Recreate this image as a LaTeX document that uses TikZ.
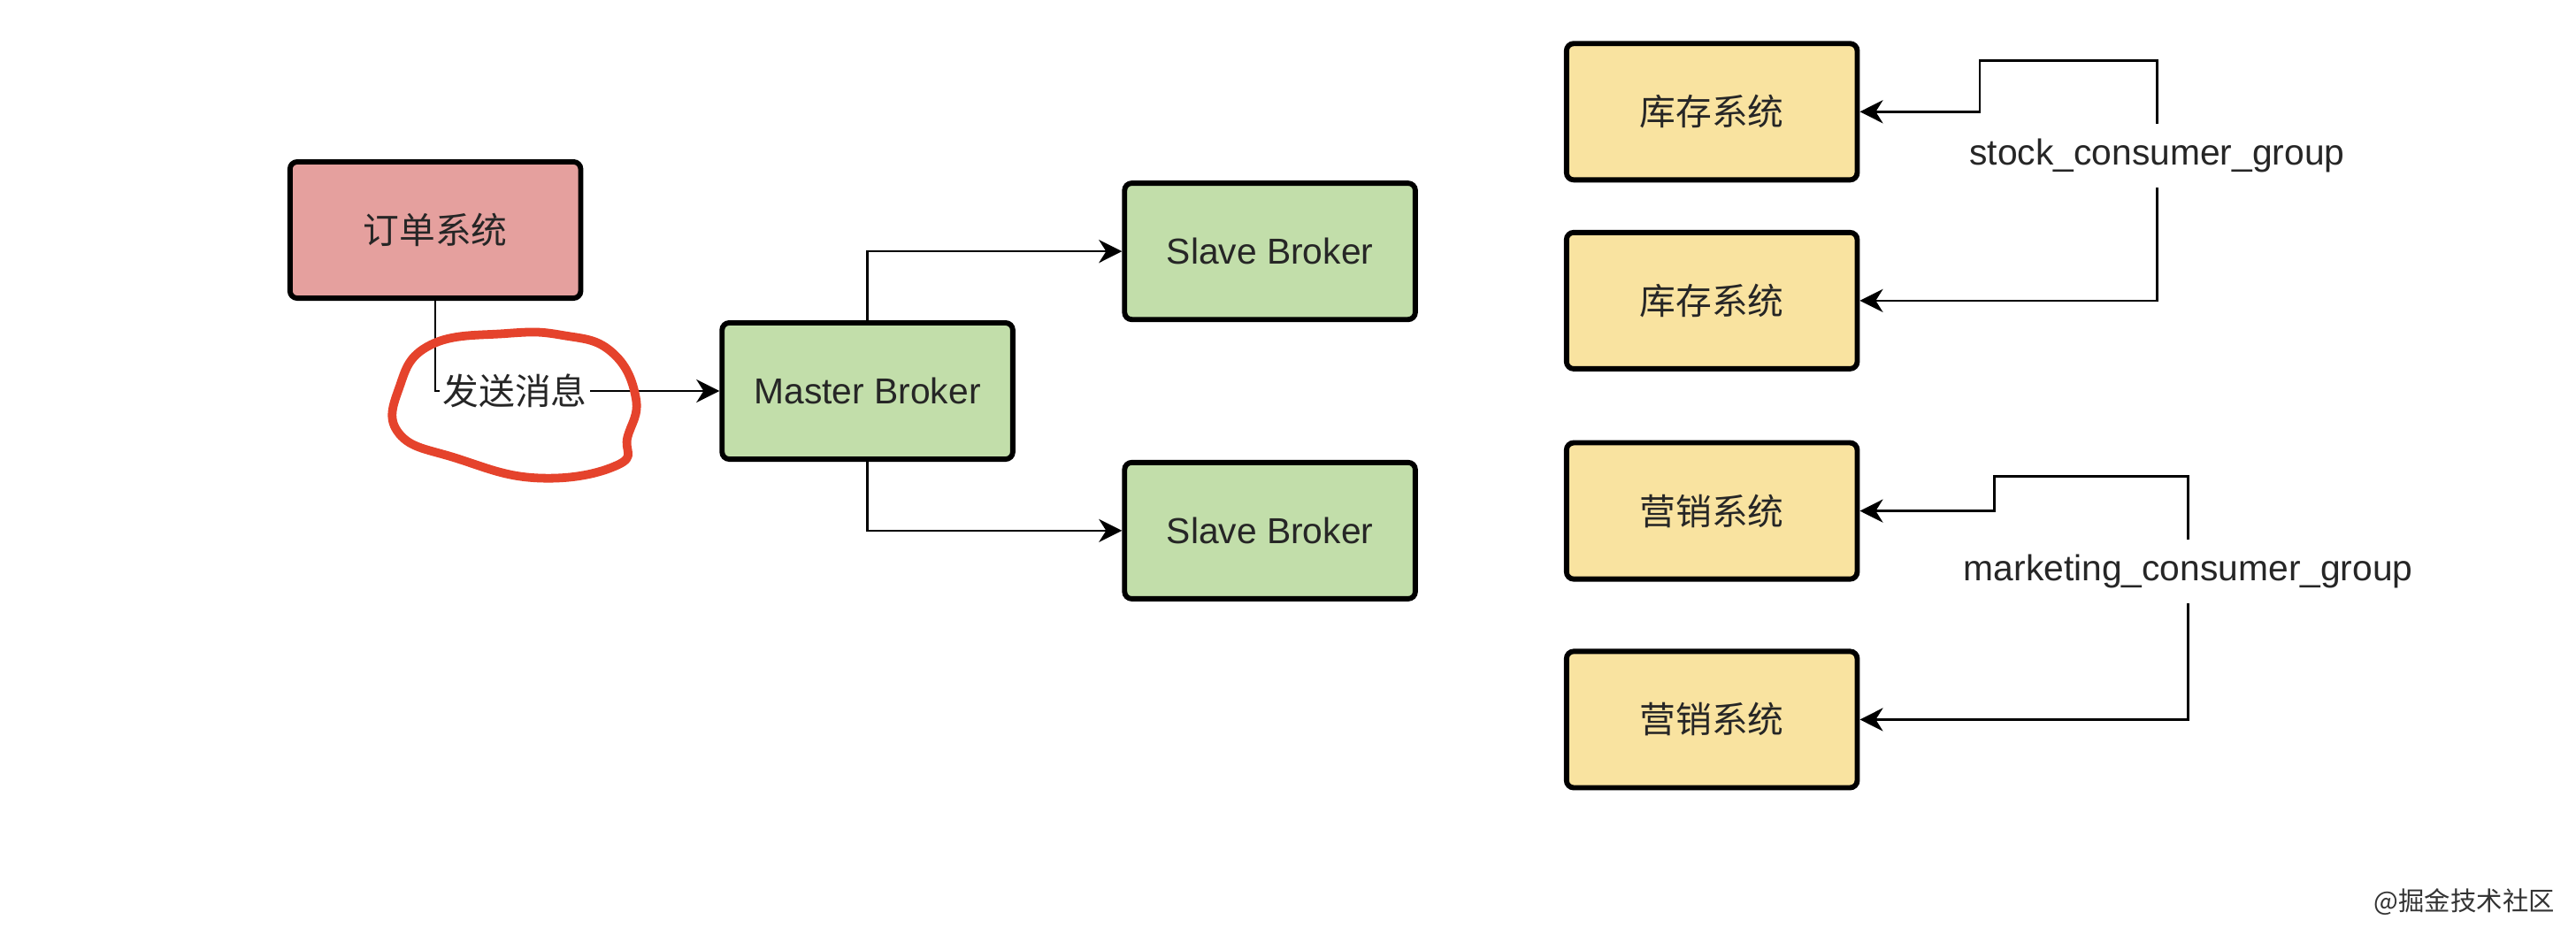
\documentclass[tikz,border=0pt]{standalone}
\usepackage{fontspec}
\setmainfont{Liberation Sans}
\newfontfamily\cjk{Noto Sans CJK SC}
\usetikzlibrary{arrows.meta}

\definecolor{orderfill}{HTML}{E5A09E}
\definecolor{brokerfill}{HTML}{C2DEAA}
\definecolor{consumerfill}{HTML}{F9E3A0}
\definecolor{scribblered}{HTML}{E5432C}

\begin{document}
\begin{tikzpicture}[x=0.02cm,y=-0.02cm,
    every node/.style={font=\fontsize{12.5}{15}\selectfont,text=black!85},
    box/.style={draw=black,line width=1.8pt,rounded corners=2.5pt,minimum width=3.54cm,minimum height=1.66cm},
    conn/.style={line width=0.8pt,-{Stealth[length=8pt,width=8pt,inset=2.5pt]}},
    lbl/.style={fill=white,inner sep=1pt},
    grp/.style={fill=white,inner xsep=1pt,inner ysep=5pt},
    scribble/.style={draw=scribblered,line width=3pt,line cap=round,line join=round},
    watermark/.style={font=\fontsize{9}{10}\selectfont,text=black!80}]
        \path[use as bounding box,fill=white] (0,0) rectangle (1568,569);
        % producer and brokers
        \node[box,fill=orderfill] (order) at (265,140) {\cjk 订单系统};
        \node[box,fill=brokerfill] (master) at (528,238) {Master Broker};
        \node[box,fill=brokerfill] (slave1) at (773,153) {Slave Broker};
        \node[box,fill=brokerfill] (slave2) at (773,323) {Slave Broker};
        % consumers
        \node[box,fill=consumerfill] (stock1) at (1042,68) {\cjk 库存系统};
        \node[box,fill=consumerfill] (stock2) at (1042,183) {\cjk 库存系统};
        \node[box,fill=consumerfill] (mkt1) at (1042,311) {\cjk 营销系统};
        \node[box,fill=consumerfill] (mkt2) at (1042,438) {\cjk 营销系统};
        \node[grp] (stockgrp) at (1313,95) {stock\_consumer\_group};
        \node[grp] (mktgrp) at (1332,348) {marketing\_consumer\_group};
        \coordinate (stockbend) at (1205,37);
        \coordinate (mktbend) at (1214,290);
        \draw[conn] (order.south) |- node[lbl,pos=0.64] (send) {\cjk 发送消息} (master.west);
        \draw[conn] (master.north) |- (slave1.west);
        \draw[conn] (master.south) |- (slave2.west);
        \draw[conn] (stockgrp.north) |- (stockbend) |- (stock1.east);
        \draw[conn] (stockgrp.south) |- (stock2.east);
        \draw[conn] (mktgrp.north) |- (mktbend) |- (mkt1.east);
        \draw[conn] (mktgrp.south) |- (mkt2.east);
        % hand drawn ring
        \draw[scribble] plot[smooth cycle,tension=0.75] coordinates {(308,203) (342,204) (372,214) (387,242) (382,266) (376,283) (328,291) (278,279) (243,264) (243,236) (262,210)};
        \node[watermark] (wm) at (1500,549) {\cjk @掘金技术社区};
      \end{tikzpicture}
\end{document}
